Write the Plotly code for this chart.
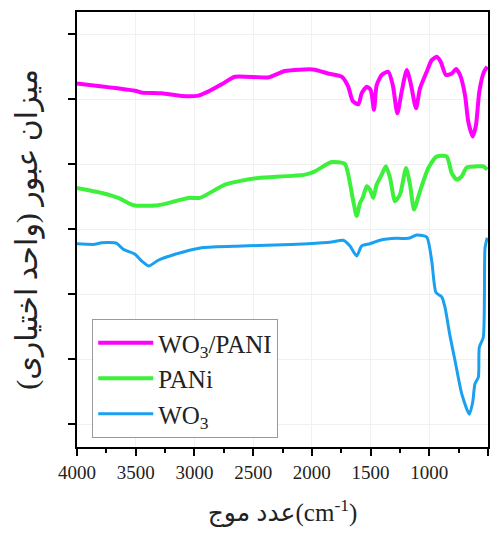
import plotly.graph_objects as go

# WO3/PANI
wn_comp = [4000, 3506, 3449, 3279, 3108, 2967, 2884, 2768, 2655, 2373, 2229, 1990, 1863, 1746,
           1690, 1652, 1604, 1576, 1533, 1499, 1471, 1448, 1405, 1349, 1311, 1272, 1235, 1192,
           1158, 1113, 1079, 1022, 979, 937, 903, 858, 809, 772, 738, 696, 668, 630, 602, 574,
           534, 506]
t_comp = [5.242, 5.130, 5.100, 5.089, 5.049, 5.054, 5.115, 5.227, 5.345, 5.334, 5.432, 5.456,
          5.395, 5.345, 5.191, 4.972, 4.920, 5.089, 5.191, 5.141, 4.835, 5.217, 5.371, 5.421,
          5.217, 4.783, 5.115, 5.447, 5.242, 4.859, 5.165, 5.421, 5.600, 5.651, 5.574, 5.371,
          5.395, 5.462, 5.371, 5.064, 4.655, 4.426, 4.605, 5.115, 5.421, 5.498]

# PANi
wn_pani = [4000, 3790, 3648, 3521, 3308, 3165, 3052, 2953, 2740, 2597, 2456, 2058, 1973, 1831,
           1718, 1690, 1647, 1618, 1590, 1567, 1533, 1505, 1477, 1448, 1405, 1369, 1334, 1292,
           1249, 1198, 1164, 1130, 1079, 1008, 937, 852, 809, 766, 724, 681, 596, 540, 506]
t_pani = [3.634, 3.557, 3.481, 3.369, 3.369, 3.430, 3.481, 3.481, 3.686, 3.747, 3.787, 3.839,
          3.890, 4.032, 4.002, 3.839, 3.430, 3.201, 3.404, 3.481, 3.660, 3.609, 3.481, 3.686,
          3.839, 3.966, 3.787, 3.430, 3.533, 3.940, 3.686, 3.303, 3.583, 3.940, 4.119, 4.119,
          3.864, 3.763, 3.813, 3.951, 3.966, 3.966, 3.916]

# WO3
wn_wo3 = [4000, 3847, 3790, 3662, 3606, 3506, 3449, 3387, 3308, 3165, 2938, 2597, 2314, 2030,
          1831, 1732, 1675, 1618, 1576, 1505, 1420, 1277, 1179, 1107, 1022, 979, 943, 894, 866,
          824, 781, 724, 659, 630, 611, 582, 574, 540, 525, 506]
t_wo3 = [2.776, 2.767, 2.792, 2.783, 2.691, 2.614, 2.511, 2.435, 2.522, 2.614, 2.715, 2.741,
         2.757, 2.776, 2.802, 2.829, 2.741, 2.588, 2.741, 2.776, 2.829, 2.859, 2.859, 2.910,
         2.879, 2.511, 2.026, 1.960, 1.796, 1.363, 0.980, 0.470, 0.153, 0.341, 0.623, 0.724,
         1.184, 1.337, 2.715, 2.868]

x_ticks = [4000, 3500, 3000, 2500, 2000, 1500, 1000, 500]
x_tick_labels = ["4000", "3500", "3000", "2500", "2000", "1500", "1000", "500"]

names = ["WO<sub>3</sub>/PANI", "PANi", "WO<sub>3</sub>"]
colors = ["#FF00FF", "#3CF03C", "#1AA0F0"]
widths = [4, 4, 3]

serif = "Times New Roman, Liberation Serif, serif"
mixed = "Liberation Serif, DejaVu Sans"

fig = go.Figure()
for wn, t, nm, c, w in zip([wn_comp, wn_pani, wn_wo3], [t_comp, t_pani, t_wo3], names, colors, widths):
    fig.add_trace(go.Scatter(x=wn, y=t, mode="lines", name=nm,
                             line=dict(color=c, width=w, shape="spline", smoothing=0.6)))

fig.update_layout(
    width=502, height=534,
    margin=dict(l=77, r=14, t=10, b=87),
    paper_bgcolor="white", plot_bgcolor="white",
    font=dict(family=serif, color="#222222", size=19),
    showlegend=True,
    legend=dict(x=0.037, y=0.294, xanchor="left", yanchor="top",
                bordercolor="#9a9a9a", borderwidth=1, bgcolor="white",
                font=dict(family=serif, size=25, color="#222222"),
                itemwidth=55, tracegroupgap=0),
)

fig.update_xaxes(
    range=[4000, 500], tickvals=x_ticks, ticktext=x_tick_labels,
    ticks="outside", ticklen=7, tickwidth=2, tickcolor="black",
    minor=dict(ticks="outside", ticklen=4, tickwidth=2, tickcolor="black", dtick=250, showgrid=False),
    showline=True, linecolor="black", linewidth=2, mirror=True,
    showgrid=True, gridcolor="#f1f1f1", gridwidth=1, zeroline=False,
    tickfont=dict(family=serif, size=19, color="#222222"),
    title=dict(text="عدد موج(cm<sup>-1</sup>)", standoff=22,
               font=dict(family=mixed, size=25, color="#222222")),
)
fig.update_yaxes(
    range=[-0.35, 6.34], tickvals=[0, 1, 2, 3, 4, 5, 6], showticklabels=False,
    ticks="outside", ticklen=7, tickwidth=2, tickcolor="black",
    showline=True, linecolor="black", linewidth=2, mirror=True,
    showgrid=True, gridcolor="#f1f1f1", gridwidth=1, zeroline=False,
    title=dict(text="میزان عبور (واحد اختیاری)", standoff=22,
               font=dict(family=mixed, size=30, color="#222222")),
)

fig.write_html("out.html", config={"displayModeBar": False},
               post_script="document.body.style.margin='0';document.body.style.padding='0';")
